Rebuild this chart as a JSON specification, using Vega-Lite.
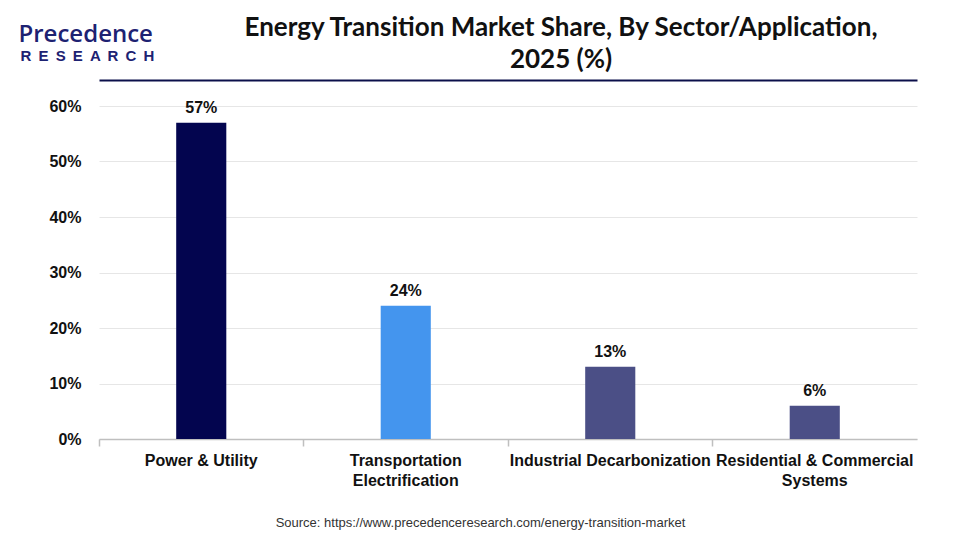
{
  "$schema": "https://vega.github.io/schema/vega-lite/v6.json",
  "autosize": {"type": "none"},
  "padding": {"left": 99, "top": 106, "right": 43, "bottom": 101},
  "width": 818,
  "height": 333,
  "background": "white",
  "title": {
    "text": ["Energy Transition Market Share, By Sector/Application,", "2025 (%)"],
    "font": "Lato",
    "fontSize": 26,
    "fontWeight": "bold",
    "color": "#111111",
    "anchor": "middle",
    "frame": "group",
    "dx": 53,
    "lineHeight": 32,
    "offset": -51
  },
  "data": {
    "values": [
      {"sector": "Power & Utility", "share": 0.57, "group": "a"},
      {"sector": "Transportation Electrification", "share": 0.24, "group": "b"},
      {"sector": "Industrial Decarbonization", "share": 0.13, "group": "c"},
      {"sector": "Residential & Commercial Systems", "share": 0.06, "group": "c"}
    ]
  },
  "config": {
    "view": {"stroke": null},
    "axis": {"labelFont": "Liberation Sans", "titleFont": "Liberation Sans"}
  },
  "encoding": {
    "x": {
      "field": "sector",
      "type": "nominal",
      "sort": null,
      "scale": {"paddingInner": 0, "paddingOuter": 0}
    }
  },
  "layer": [
    {
      "mark": {"type": "bar", "width": {"band": 0.245}},
      "encoding": {
        "x": {
          "field": "sector",
          "type": "nominal",
          "sort": null,
          "axis": {
            "labelAngle": 0,
            "labelFont": "Liberation Sans Narrow, Liberation Sans, sans-serif",
            "labelFontSize": 16,
            "labelFontWeight": "bold",
            "labelColor": "#111111",
            "labelLimit": 260,
            "labelLineHeight": 20,
            "labelPadding": 6,
            "labelExpr": "datum.label == 'Transportation Electrification' ? ['Transportation', 'Electrification'] : datum.label == 'Residential & Commercial Systems' ? ['Residential & Commercial', 'Systems'] : datum.label",
            "bandPosition": 0,
            "ticks": true,
            "tickSize": 7,
            "tickColor": "#bfbfbf",
            "tickWidth": 1.5,
            "domainColor": "#bfbfbf",
            "domainWidth": 1.5,
            "grid": false,
            "title": "Source: https://www.precedenceresearch.com/energy-transition-market",
            "titleFont": "Liberation Sans Narrow, Liberation Sans, sans-serif",
            "titleFontSize": 13,
            "titleFontWeight": "normal",
            "titleColor": "#333333",
            "titleX": 381,
            "titleY": 87,
            "titleAnchor": "middle",
            "titleAlign": "center",
            "titleBaseline": "alphabetic"
          }
        },
        "y": {
          "field": "share",
          "type": "quantitative",
          "scale": {"domain": [0, 0.6]},
          "axis": {
            "values": [0, 0.1, 0.2, 0.3, 0.4, 0.5, 0.6],
            "format": ".0%",
            "domain": false,
            "ticks": false,
            "grid": true,
            "gridColor": "#e6e6e6",
            "gridWidth": 1,
            "labelFont": "Liberation Sans",
            "labelFontSize": 16,
            "labelFontWeight": "bold",
            "labelColor": "#111111",
            "labelPadding": 18,
            "title": "Precedence",
            "titleFont": "Open Sans",
            "titleFontSize": 24,
            "titleFontWeight": 600,
            "titleColor": "#1d2272",
            "titleAngle": 0,
            "titleAlign": "left",
            "titleBaseline": "alphabetic",
            "titleX": -81,
            "titleY": -65
          }
        },
        "color": {
          "field": "group",
          "type": "nominal",
          "scale": {"domain": ["a", "b", "c"], "range": ["#03054f", "#4495ee", "#4b4f86"]},
          "legend": null
        }
      }
    },
    {
      "mark": {"type": "text", "baseline": "bottom", "dy": -7, "font": "Liberation Sans", "fontSize": 16, "fontWeight": "bold", "color": "#111111"},
      "encoding": {
        "x": {
          "field": "sector",
          "type": "nominal",
          "sort": null,
          "axis": {
            "orient": "top",
            "offset": 26,
            "labels": false,
            "ticks": false,
            "domain": true,
            "domainColor": "#0b0f4a",
            "domainWidth": 2,
            "grid": false,
            "title": "R \u2009E \u2009S \u2009E \u2009A \u2009R \u2009C \u2009H",
            "titleFont": "Liberation Sans",
            "titleFontSize": 15,
            "titleFontWeight": "bold",
            "titleColor": "#1d2272",
            "titleAngle": 0,
            "titleAlign": "left",
            "titleBaseline": "alphabetic",
            "titleX": -79,
            "titleY": -20
          }
        },
        "y": {"field": "share", "type": "quantitative"},
        "text": {"field": "share", "type": "quantitative", "format": ".0%"}
      }
    }
  ],
  "resolve": {"axis": {"x": "independent"}}
}
